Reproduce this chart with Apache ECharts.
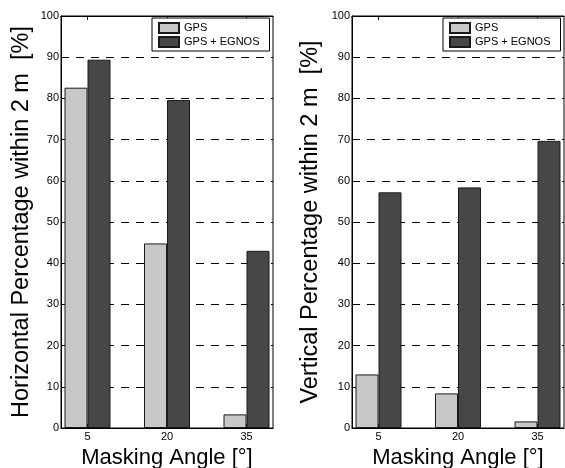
<!DOCTYPE html>
<html>
<head>
<meta charset="utf-8">
<script src="https://cdn.jsdelivr.net/npm/echarts@6/dist/echarts.min.js"></script>
<style>
    html, body { margin: 0; padding: 0; background: #fff; }
    #chart { width: 565px; height: 468px; }
</style>
</head>
<body>
<div id="chart"></div>
<script>
// masking angles (x positions) and percentages within 2 m
var angles = [5, 20, 35];
var horizontalGps = [82.6, 44.8, 3.3];
var horizontalEgnos = [89.4, 79.6, 43.0];
var verticalGps = [13.0, 8.4, 1.6];
var verticalEgnos = [57.2, 58.4, 69.7];
var seriesNames = ['GPS', 'GPS + EGNOS'];
var yTicks = [0, 10, 20, 30, 40, 50, 60, 70, 80, 90, 100];

var FONT = '"Liberation Sans", Arial, Helvetica, sans-serif';
var colorGps = '#c8c8c8';
var colorEgnos = '#474747';

function pairs(values) {
    return angles.map(function (a, i) {
        return [a, values[i]];
    });
}

function bottomAxis(gridIndex) {
    return {
        type: 'value',
        gridIndex: gridIndex,
        min: 0,
        max: 40,
        name: 'Masking Angle [°]',
        nameLocation: 'middle',
        nameGap: 14,
        nameTextStyle: {color: '#000', fontSize: 22, fontFamily: FONT},
        axisLine: {show: true, lineStyle: {color: '#000', width: 1}},
        axisTick: {show: true, inside: true, length: 4, customValues: angles, lineStyle: {color: '#000'}},
        axisLabel: {show: true, margin: 3, customValues: angles, color: '#000', fontSize: 11, fontFamily: FONT},
        splitLine: {show: false}
    };
}

function topAxis(gridIndex) {
    return {
        type: 'value',
        gridIndex: gridIndex,
        position: 'top',
        min: 0,
        max: 40,
        axisLine: {show: true, lineStyle: {color: '#000', width: 1}},
        axisTick: {show: true, inside: true, length: 4, customValues: angles, lineStyle: {color: '#000'}},
        axisLabel: {show: false},
        splitLine: {show: false}
    };
}

function leftAxis(gridIndex, title, gap) {
    return {
        type: 'value',
        gridIndex: gridIndex,
        min: yTicks[0],
        max: yTicks[yTicks.length - 1],
        interval: 10,
        name: title,
        nameLocation: 'middle',
        nameGap: gap,
        nameTextStyle: {color: '#000', fontSize: 23.5, fontFamily: FONT},
        axisLine: {show: true, lineStyle: {color: '#000', width: 1}},
        axisTick: {show: true, inside: true, length: 4, lineStyle: {color: '#000'}},
        axisLabel: {margin: 2, color: '#000', fontSize: 11, fontFamily: FONT},
        splitLine: {show: true, lineStyle: {color: '#000', width: 1, type: [8, 7]}}
    };
}

function barSeries(name, values, axisIndex, color) {
    return {
        name: name,
        type: 'bar',
        xAxisIndex: axisIndex * 2,
        yAxisIndex: axisIndex,
        barWidth: 23,
        barGap: '0%',
        data: pairs(values),
        itemStyle: {color: color, borderColor: '#1a1a1a', borderWidth: 1},
        emphasis: {disabled: true}
    };
}

function legendBox(left, top) {
    return {
        left: left,
        top: top,
        orient: 'vertical',
        data: seriesNames,
        itemWidth: 20,
        itemHeight: 10,
        itemGap: 2,
        padding: [4, 10, 3, 6],
        borderColor: '#000',
        borderWidth: 1,
        backgroundColor: '#fff',
        selectedMode: false,
        icon: 'rect',
        textStyle: {color: '#000', fontSize: 11, fontFamily: FONT}
    };
}

var myChart = echarts.init(document.getElementById('chart'));
var option = {
    backgroundColor: '#fff',
    animation: false,
    color: [colorGps, colorEgnos],
    grid: [
        {left: 61, top: 16, width: 212, height: 412, show: true, borderColor: '#000', borderWidth: 1, outerBoundsMode: 'none'},
        {left: 352, top: 16, width: 212, height: 412, show: true, borderColor: '#000', borderWidth: 1, outerBoundsMode: 'none'}
    ],
    legend: [legendBox(152, 18), legendBox(443, 18)],
    xAxis: [bottomAxis(0), topAxis(0), bottomAxis(1), topAxis(1)],
    yAxis: [
        leftAxis(0, 'Horizontal Percentage within 2 m  [%]', 27),
        leftAxis(1, 'Vertical Percentage within 2 m  [%]', 29)
    ],
    series: [
        barSeries(seriesNames[0], horizontalGps, 0, colorGps),
        barSeries(seriesNames[1], horizontalEgnos, 0, colorEgnos),
        barSeries(seriesNames[0], verticalGps, 1, colorGps),
        barSeries(seriesNames[1], verticalEgnos, 1, colorEgnos)
    ]
};
myChart.setOption(option, true);
</script>
</body>
</html>
